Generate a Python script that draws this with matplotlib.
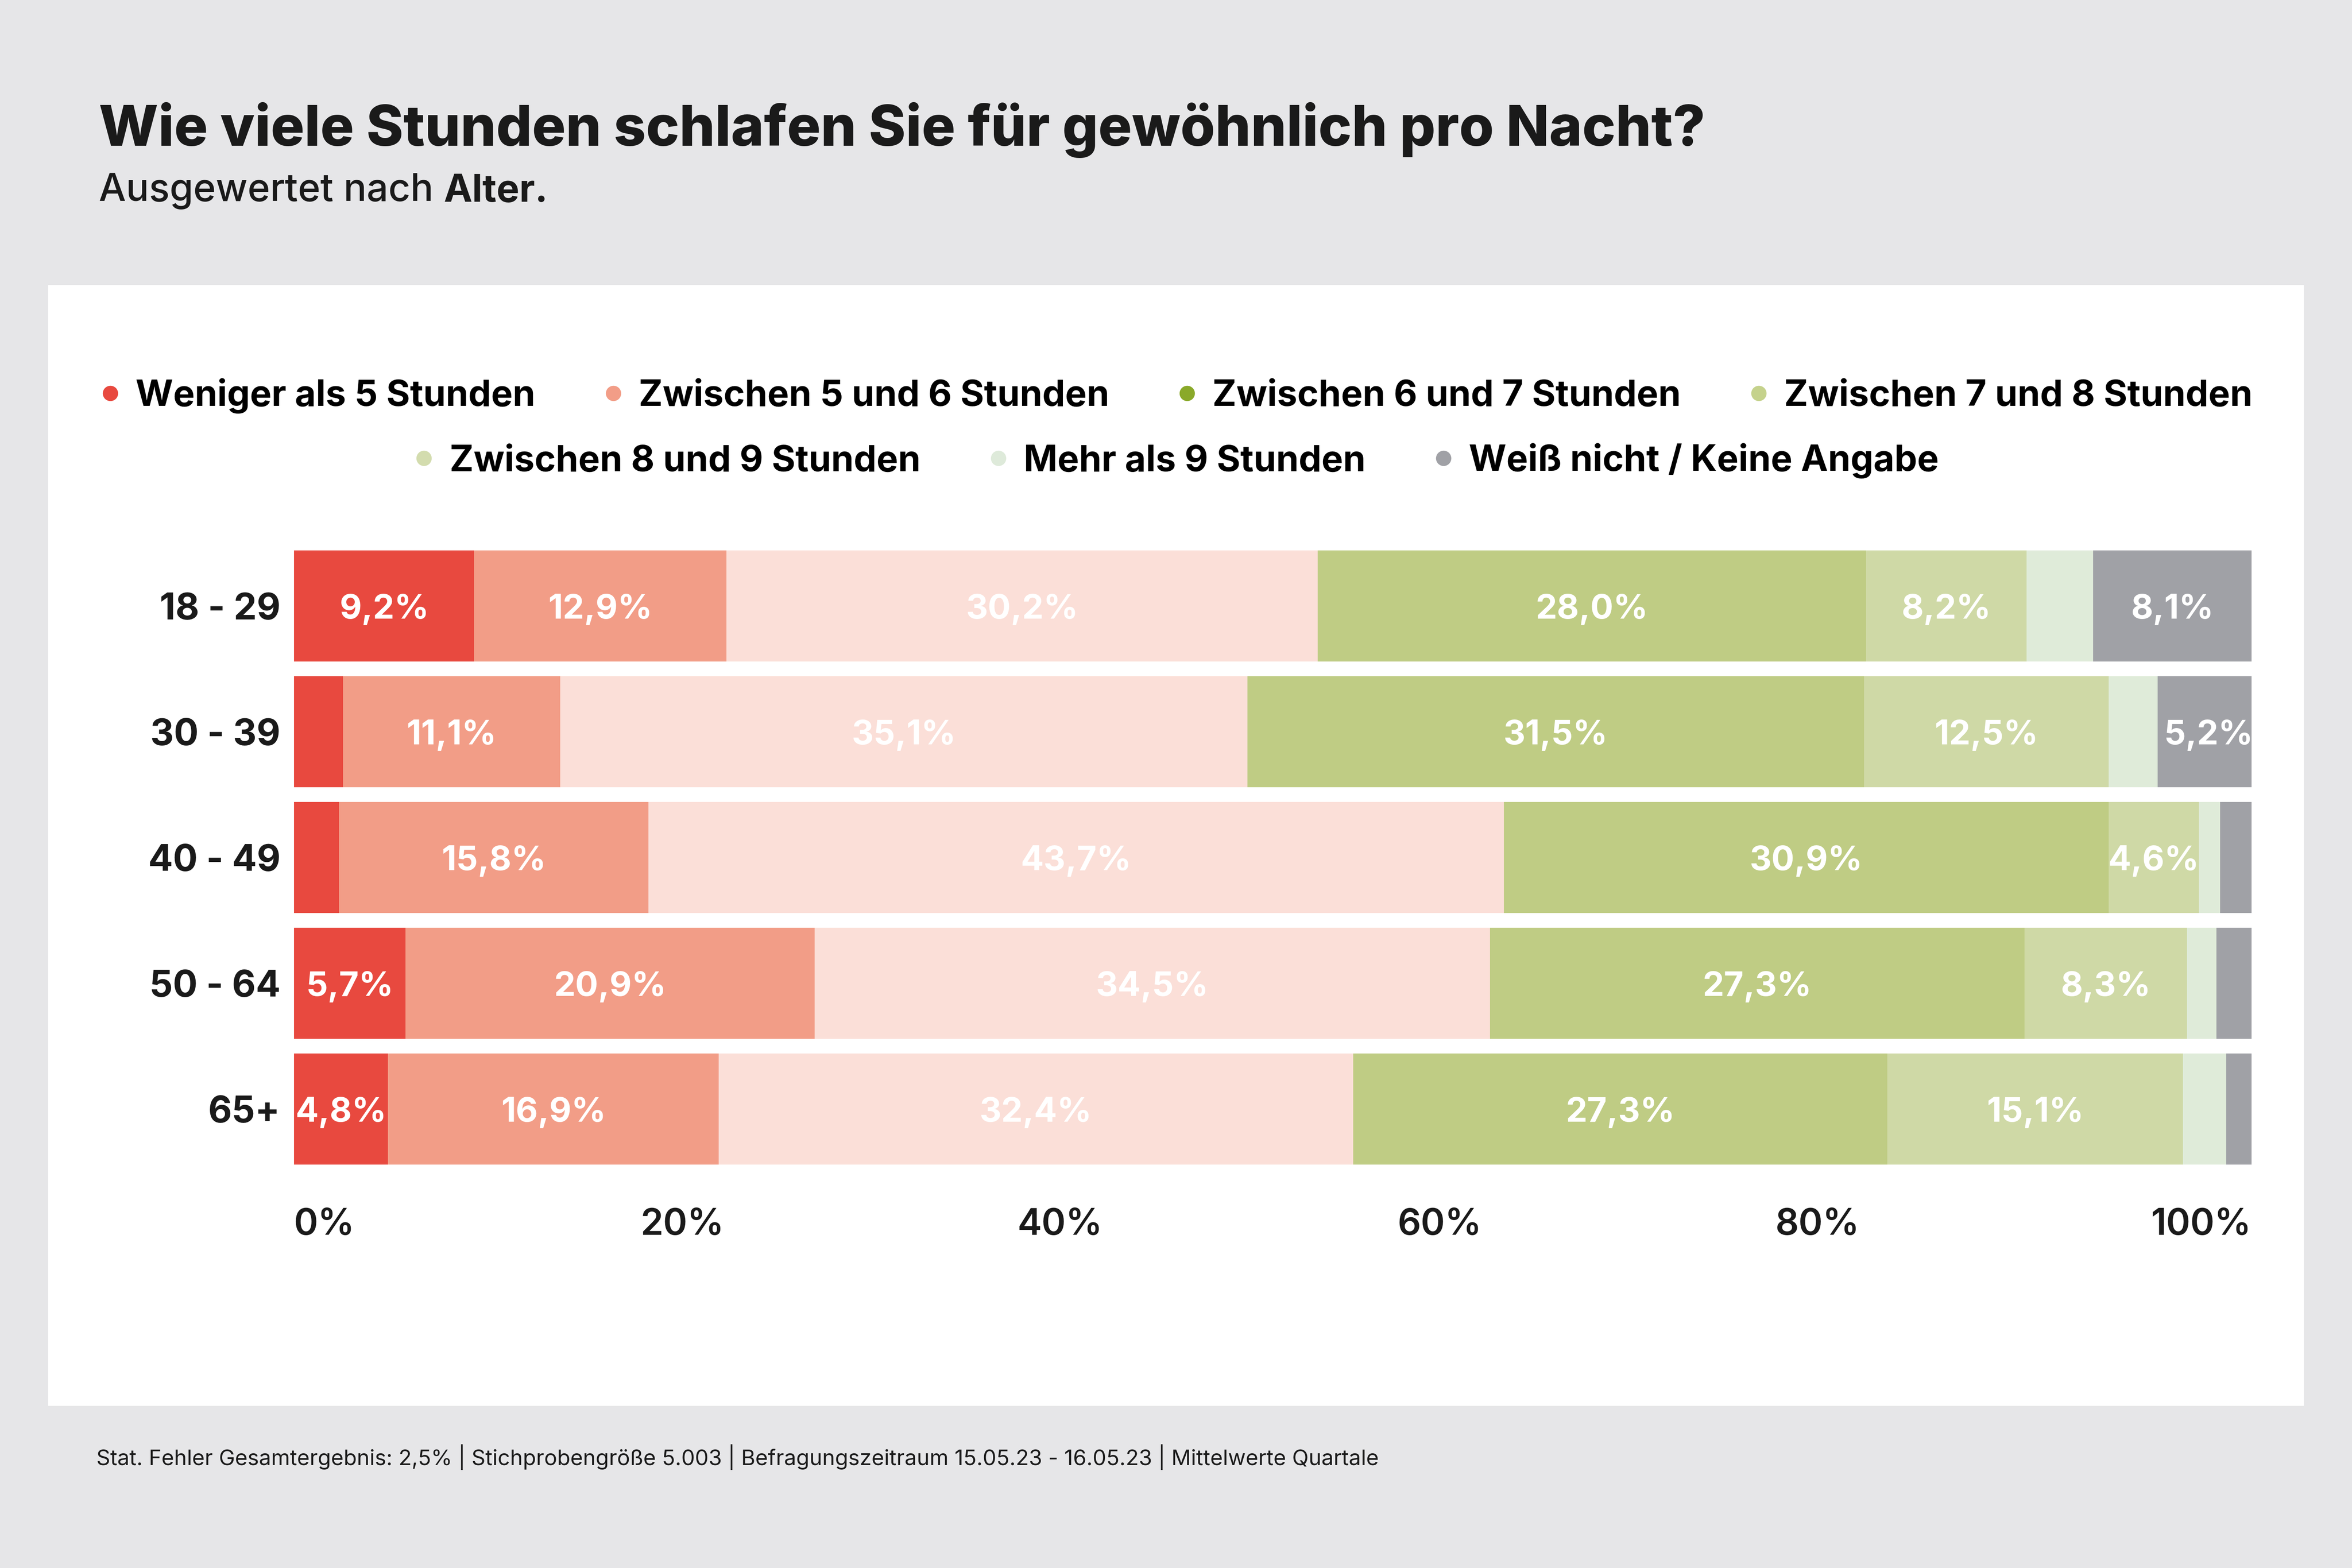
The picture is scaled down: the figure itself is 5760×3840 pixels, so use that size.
import numpy as np
import matplotlib.pyplot as plt
import matplotlib.transforms as mtransforms
from matplotlib.patches import Rectangle
from matplotlib.lines import Line2D

plt.rcParams['font.family'] = ['Inter', 'DejaVu Sans']

# data
ages = ['18 - 29', '30 - 39', '40 - 49', '50 - 64', '65+']
categories = ['Weniger als 5 Stunden', 'Zwischen 5 und 6 Stunden', 'Zwischen 6 und 7 Stunden',
              'Zwischen 7 und 8 Stunden', 'Zwischen 8 und 9 Stunden', 'Mehr als 9 Stunden',
              'Weiß nicht / Keine Angabe']
under5 = [9.2, 2.5, 2.3, 5.7, 4.8]
h5_6 = [12.9, 11.1, 15.8, 20.9, 16.9]
h6_7 = [30.2, 35.1, 43.7, 34.5, 32.4]
h7_8 = [28.0, 31.5, 30.9, 27.3, 27.3]
h8_9 = [8.2, 12.5, 4.6, 8.3, 15.1]
over9 = [3.4, 2.5, 1.1, 1.5, 2.2]
unknown = [8.1, 5.2, 1.6, 1.8, 1.3]
series = [under5, h5_6, h6_7, h7_8, h8_9, over9, unknown]
ticks = [0, 20, 40, 60, 80, 100]

bar_colors = ['#e8493f', '#f29d87', '#fbdfd8', '#bfcc84', '#cfd9a6', '#dfebd9', '#a0a1a6']
dot_colors = ['#e8493f', '#f29d87', '#8aa92a', '#c5d28c', '#d3dcae', '#deeada', '#a0a1a6']

bg = '#e6e6e8'
dark = '#1a1a1a'
fig = plt.figure(figsize=(19.2, 12.8), dpi=300, facecolor=bg)

# white panel
fig.patches.append(Rectangle((0.0204, 0.1033), 0.9592, 0.7149, transform=fig.transFigure,
                             facecolor='white', edgecolor='none', zorder=-5))

fig.text(0.042, 0.907, 'Wie viele Stunden schlafen Sie für gewöhnlich pro Nacht?',
         fontsize=33, fontweight='heavy', color=dark, va='baseline')
sub = fig.text(0.042, 0.8718, 'Ausgewertet nach ', fontsize=22.5, fontweight='medium',
               color=dark, va='baseline')

fig.text(0.041, 0.0655,
         'Stat. Fehler Gesamtergebnis: 2,5% | Stichprobengröße 5.003 | '
         'Befragungszeitraum 15.05.23 - 16.05.23 | Mittelwerte Quartale',
         fontsize=12.7, color=dark, va='baseline')

ax = fig.add_axes([0.125, 0.2526, 0.8323, 0.401])
ax.set_facecolor('none')
ax.annotate('Alter.', xy=(1, 0), xycoords=sub, fontsize=22.5, fontweight='bold',
            color=dark, va='bottom', annotation_clip=False)

y = np.arange(len(ages))
left = np.zeros(len(ages))
for vals, col in zip(series, bar_colors):
    vals = np.array(vals)
    ax.barh(y, vals, left=left, height=0.885, color=col, edgecolor='none')
    for yi, v, l in zip(y, vals, left):
        if v >= 4.5:
            ax.text(l + v / 2, yi, f'{v:.1f}%'.replace('.', ','), ha='center',
                    va='center_baseline', color='white', fontsize=20, fontweight='bold')
    left += vals

ax.set_xlim(0, 100)
ax.set_ylim(len(ages) - 0.5, -0.5)
ax.set_yticks(y)
ax.set_yticklabels(ages, fontsize=21.5, fontweight='bold', color=dark)
ax.set_xticks([])
ax.tick_params(length=0, axis='y', pad=8)
for s in ax.spines.values():
    s.set_visible(False)

# x labels spread evenly between the two ends, like in the original
shifts = [0, -2, -10, -17, -25, 0]
aligns = ['left', 'center', 'center', 'center', 'center', 'right']
for t, dx, ha in zip(ticks, shifts, aligns):
    tr = ax.get_xaxis_transform() + mtransforms.ScaledTranslation(dx / 72, -21 / 72,
                                                                  fig.dpi_scale_trans)
    ax.text(t, 0, f'{t}%', transform=tr, ha=ha, va='top', fontsize=21.5,
            fontweight='semibold', color=dark)

# legend in two centred rows
handles = [Line2D([], [], marker='o', linestyle='none', markersize=9,
                  markerfacecolor=c, markeredgecolor='none') for c in dot_colors]
leg_kw = dict(frameon=False, handlelength=0.6, handletextpad=0.4, columnspacing=1.85,
              prop={'size': 21.3, 'weight': 'bold'}, loc='center', borderaxespad=0)
fig.legend(handles[:4], categories[:4], ncol=4, bbox_to_anchor=(0.5, 0.7475), **leg_kw)
fig.legend(handles[4:], categories[4:], ncol=3, bbox_to_anchor=(0.5, 0.706), **leg_kw)

fig.savefig('out.png', dpi=300, facecolor=bg)
